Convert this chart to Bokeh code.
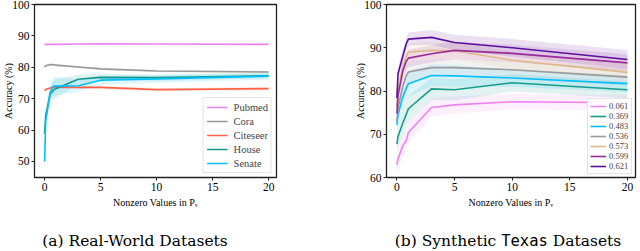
from bokeh.plotting import figure
from bokeh.models import Legend, LegendItem, Div, FixedTicker, Range1d
from bokeh.layouts import row, column
from bokeh.embed import file_html
from bokeh.resources import INLINE

# ---------------- data ----------------
x_vals = [0, 0.1, 0.5, 0.8, 1, 3, 5, 10, 20]

real_names = ["Pubmed", "Cora", "Citeseer", "House", "Senate"]
real_colors = ["#ee82ee", "#999999", "#ff6347", "#119a8e", "#00bfff"]
pubmed = [87.2, 87.3, 87.3, 87.3, 87.3, 87.4, 87.5, 87.4, 87.3]
cora = [80.0, 80.5, 80.9, 80.8, 80.7, 80.1, 79.5, 78.8, 78.5]
citeseer = [72.6, 72.9, 73.4, 73.6, 73.7, 73.6, 73.6, 72.9, 73.2]
house = [58.8, 64.7, 71.5, 72.7, 73.2, 76.2, 76.8, 76.7, 77.3]
senate = [50.0, 63.0, 72.0, 74.0, 74.0, 74.1, 75.9, 76.3, 77.2]
pubmed_sd = [0.2, 0.2, 0.2, 0.2, 0.2, 0.2, 0.2, 0.2, 0.2]
cora_sd = [0.4, 0.4, 0.4, 0.4, 0.4, 0.4, 0.4, 0.4, 0.4]
citeseer_sd = [0.5, 0.5, 0.5, 0.5, 0.5, 0.5, 0.5, 0.5, 0.5]
house_sd = [1.0, 2.0, 2.5, 3.0, 3.0, 1.5, 1.0, 1.0, 0.8]
senate_sd = [1.0, 2.0, 2.5, 3.0, 3.0, 2.0, 1.5, 1.2, 1.2]
real_means = [pubmed, cora, citeseer, house, senate]
real_sds = [pubmed_sd, cora_sd, citeseer_sd, house_sd, senate_sd]

syn_names = ["0.061", "0.369", "0.483", "0.536", "0.573", "0.599", "0.621"]
syn_colors = ["#ee82ee", "#179c8c", "#00bfff", "#999999", "#deb887", "#9b2a9b", "#5c0f9c"]
s061 = [62.9, 64.3, 67.3, 68.5, 70.4, 76.2, 76.8, 77.5, 77.3]
s369 = [67.7, 69.5, 72.5, 74.5, 75.9, 80.5, 80.3, 81.9, 80.3]
s483 = [72.2, 74.5, 78.5, 80.5, 81.7, 83.6, 83.5, 83.0, 81.7]
s536 = [73.0, 76.0, 81.0, 83.5, 84.4, 85.4, 85.4, 84.9, 83.2]
s573 = [76.5, 80.0, 85.5, 88.0, 89.0, 89.4, 89.3, 87.1, 84.3]
s599 = [74.8, 79.0, 84.5, 86.8, 87.6, 88.6, 89.4, 88.7, 86.5]
s621 = [78.4, 84.0, 87.9, 90.8, 92.0, 92.4, 91.2, 90.0, 87.3]
s061_sd = [2.5, 2.5, 2.5, 2.5, 2.5, 2.2, 2.0, 1.8, 1.8]
s369_sd = [2.0, 2.5, 3.0, 3.0, 3.0, 2.5, 2.5, 2.0, 2.0]
s483_sd = [2.0, 2.5, 3.0, 3.0, 3.0, 2.5, 2.5, 2.0, 2.0]
s536_sd = [2.0, 2.0, 2.5, 2.5, 2.5, 2.0, 2.0, 2.0, 2.0]
s573_sd = [2.0, 2.0, 2.0, 2.0, 2.0, 2.0, 2.0, 2.0, 2.0]
s599_sd = [2.0, 2.0, 2.0, 2.0, 2.0, 2.0, 2.0, 2.0, 2.0]
s621_sd = [1.5, 1.5, 1.5, 1.5, 1.5, 1.7, 1.8, 2.0, 2.2]
syn_means = [s061, s369, s483, s536, s573, s599, s621]
syn_sds = [s061_sd, s369_sd, s483_sd, s536_sd, s573_sd, s599_sd, s621_sd]

x_ticks = [0, 5, 10, 15, 20]
real_y_ticks = [50, 60, 70, 80, 90, 100]
syn_y_ticks = [60, 70, 80, 90, 100]

FONT = "Liberation Serif"


def make_fig(width, y_range, y_ticks, min_left, min_right):
    p = figure(width=width, height=215, x_range=Range1d(-0.9, 20.7), y_range=Range1d(*y_range),
               output_backend="svg", toolbar_location=None,
               min_border_left=min_left, min_border_right=min_right,
               min_border_top=4, min_border_bottom=38)
    p.xgrid.visible = False
    p.ygrid.visible = False
    p.outline_line_color = "#222222"
    p.outline_line_width = 1.3
    p.background_fill_color = "white"
    p.border_fill_color = "white"
    p.xaxis.ticker = FixedTicker(ticks=x_ticks)
    p.yaxis.ticker = FixedTicker(ticks=y_ticks)
    for ax in (p.xaxis[0], p.yaxis[0]):
        ax.axis_line_color = None
        ax.major_tick_line_color = "#222222"
        ax.major_tick_in = 0
        ax.major_tick_out = 3
        ax.minor_tick_line_color = None
        ax.major_label_text_font = FONT
        ax.major_label_text_font_size = "11.5px"
        ax.major_label_text_color = "black"
        ax.major_label_standoff = 2
        ax.axis_label_text_font = FONT
        ax.axis_label_text_font_size = "10px"
        ax.axis_label_text_font_style = "normal"
        ax.axis_label_text_color = "black"
        ax.axis_label_standoff = 3
    p.xaxis.axis_label = "Nonzero Values in Pᵥ"
    p.yaxis.axis_label = "Accuracy (%)"
    p.yaxis.axis_label_standoff = -5
    return p


def add_series(p, names, colors, means, sds):
    items = []
    for name, c, m, s in zip(names, colors, means, sds):
        lo = [a - b for a, b in zip(m, s)]
        hi = [a + b for a, b in zip(m, s)]
        p.varea(x=x_vals, y1=lo, y2=hi, fill_color=c, fill_alpha=0.13)
    for name, c, m, s in zip(names, colors, means, sds):
        r = p.line(x=x_vals, y=m, line_color=c, line_width=1.6)
        items.append(LegendItem(label=name, renderers=[r]))
    return items


p1 = make_fig(352, (44.9, 100), real_y_ticks, 28, 76)
items1 = add_series(p1, real_names, real_colors, real_means, real_sds)
leg1 = Legend(items=items1, location="bottom_right", label_text_font=FONT,
              label_text_font_size="10.5px", glyph_width=21, glyph_height=12,
              label_height=12, spacing=2, padding=3, margin=4, label_standoff=6,
              border_line_color="#cccccc", border_line_width=1, background_fill_alpha=0.9)
p1.add_layout(leg1)

p2 = make_fig(287, (60, 100), syn_y_ticks, 28, 4)
items2 = add_series(p2, syn_names, syn_colors, syn_means, syn_sds)
leg2 = Legend(items=items2, location="bottom_right", label_text_font=FONT,
              label_text_font_size="8.5px", glyph_width=16, glyph_height=8,
              label_height=8, spacing=0, padding=2, margin=3, label_standoff=3,
              border_line_color="#cccccc", border_line_width=1, background_fill_alpha=0.9)
p2.add_layout(leg2)

cap = Div(width=639, height=34, margin=0, text=(
    '<div style="position:relative;width:639px;height:34px;font-family:\'DejaVu Serif\';'
    'font-size:15.5px;color:black;">'
    '<span style="position:absolute;left:135px;top:15px;transform:translateX(-50%);white-space:nowrap;">'
    '(a) Real-World Datasets</span>'
    '<span style="position:absolute;left:508px;top:15px;transform:translateX(-50%);white-space:nowrap;">'
    '(b) Synthetic <span style="font-family:\'DejaVu Sans Mono\';">Texas</span> Datasets</span>'
    '</div>'))

layout = column(row(p1, p2), cap)
open("out.html", "w").write(file_html(layout, INLINE))
